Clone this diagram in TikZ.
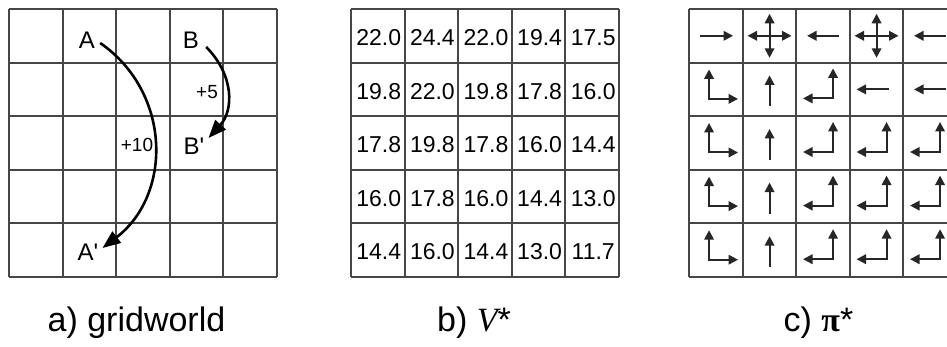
\documentclass[tikz,border=0pt]{standalone}
\usepackage{fontspec}
\setmainfont{Liberation Sans}
\newfontfamily\serifface{Liberation Serif}
\usetikzlibrary{arrows.meta}

\tikzset{
  gridline/.style={line width=1.9pt, draw=black!72},
  lbl/.style={font=\fontsize{24}{24}\selectfont, inner sep=0pt},
  rew/.style={font=\fontsize{19}{19}\selectfont, inner sep=0pt},
  val/.style={font=\fontsize{23}{23}\selectfont, inner sep=0pt},
  captxt/.style={font=\fontsize{34}{34}\selectfont, inner sep=0pt, anchor=base},
  jump/.style={line width=2.6pt, black, -{Triangle[length=18pt,width=14pt]}},
  pol/.style={line width=2pt, black!85, {Triangle[length=9.5pt,width=9.5pt]}-{Triangle[length=9.5pt,width=9.5pt]}},
  polone/.style={line width=2pt, black!85, -{Triangle[length=9.5pt,width=9.5pt]}},
  pics/arr-r/.style={code={\draw[polone] (-16,0) -- (17,0);}},
  pics/arr-l/.style={code={\draw[polone] (16,0) -- (-16,0);}},
  pics/arr-lw/.style={code={\draw[polone] (12,0) -- (-20,0);}},
  pics/arr-u/.style={code={\draw[polone] (0,17) -- (0,-14);}},
  pics/arr-x/.style={code={\draw[pol] (-22,0) -- (22,0); \draw[pol] (0,-22) -- (0,22);}},
  pics/arr-ur/.style={code={\draw[pol] (-7,-20) -- (-7,9.5) -- (22,9.5);}},
  pics/arr-ul/.style={code={\draw[pol] (-20,9) -- (10,9) -- (10,-21);}},
}

\begin{document}
\begin{tikzpicture}[x=1pt,y=-1pt]
\useasboundingbox (0,0) rectangle (947,347);
\clip (0,0) rectangle (947,347);

% ---- a) gridworld ----
\foreach \i in {0,...,5} {
  \draw[gridline] ({9+53.6*\i},9) -- ({9+53.6*\i},277);
  \draw[gridline] (9,{9+53.6*\i}) -- (277,{9+53.6*\i});
}
\node[lbl] (A)  at (87,40)  {A};
\node[lbl] (B)  at (191,40) {B};
\node[lbl] (Bp) at (194,146) {B\textquotesingle};
\node[lbl] (Ap) at (88,252) {A\textquotesingle};
\draw[jump] ([shift={(5,3)}]A.east) .. controls (172,93) and (172,195) .. ([shift={(4,-4)}]Ap.east);
\draw[jump] ([shift={(7,7)}]B.east) .. controls (234,75) and (234,110) .. ([shift={(4,-8)}]Bp.east);
\node[rew] (r10) at (137,145) {+10};
\node[rew] (r5)  at (207,92) {+5};

% ---- b) V* ----
\foreach \i in {0,...,5} {
  \draw[gridline] ({351+53.6*\i},9) -- ({351+53.6*\i},277);
  \draw[gridline] (351,{9+53.6*\i}) -- (619,{9+53.6*\i});
}
\foreach \row [count=\r from 0] in {
  {22.0,24.4,22.0,19.4,17.5},
  {19.8,22.0,19.8,17.8,16.0},
  {17.8,19.8,17.8,16.0,14.4},
  {16.0,17.8,16.0,14.4,13.0},
  {14.4,16.0,14.4,13.0,11.7}} {
  \foreach \v [count=\c from 0] in \row {
    \node[val] (v-\r-\c) at ({351+53.6*\c+27.8},{9+53.6*\r+28.6}) {\v};
  }
}

% ---- c) pi* ----
\foreach \i in {0,...,5} {
  \draw[gridline] ({689.3+53.5*\i},9) -- ({689.3+53.5*\i},277);
  \draw[gridline] (689.3,{9+53.6*\i}) -- (957,{9+53.6*\i});
}
\foreach \row [count=\r from 0] in {
  {r,x,l,x,l},
  {ur,u,ul,lw,l},
  {ur,u,ul,ul,ul},
  {ur,u,ul,ul,ul},
  {ur,u,ul,ul,ul}} {
  \foreach \p [count=\c from 0] in \row {
    \pic (p-\r-\c) at ({689.3+53.5*\c+26.75},{9+53.6*\r+26.8}) {arr-\p};
  }
}

% ---- captions ----
\node[captxt] (capa) at (136.5,331) {a) gridworld};
\node[captxt] (capb) at (474,331) {b) {\serifface\itshape V}*};
\node[captxt] (capc) at (818.5,331) {c) {\serifface\bfseries π}*};
\end{tikzpicture}
\end{document}
